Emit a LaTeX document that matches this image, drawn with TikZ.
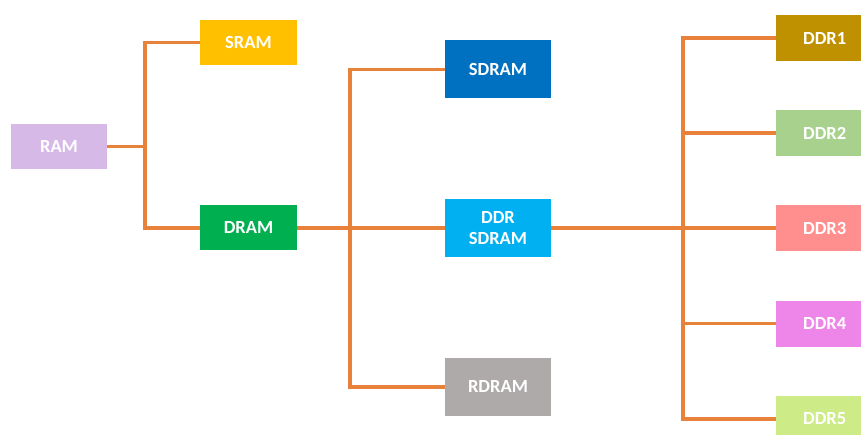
\documentclass[tikz,border=0pt]{standalone}
\usepackage{fontspec}
\setmainfont{Carlito}
\definecolor{linkc}{HTML}{E8823A}
\definecolor{ramc}{HTML}{D7B9E8}
\definecolor{sramc}{HTML}{FFC000}
\definecolor{dramc}{HTML}{00B050}
\definecolor{sdramc}{HTML}{0070C0}
\definecolor{ddrsc}{HTML}{00B0F0}
\definecolor{rdramc}{HTML}{AEAAAA}
\definecolor{ddra}{HTML}{BF9000}
\definecolor{ddrb}{HTML}{A9D18E}
\definecolor{ddrc}{HTML}{FF8F8F}
\definecolor{ddrd}{HTML}{EE85E8}
\definecolor{ddre}{HTML}{CDEB87}
\begin{document}
\begin{tikzpicture}[x=1pt,y=-1pt,
  box/.style={minimum width=97pt, minimum height=45pt, inner sep=0pt, text=white,
    font=\bfseries\fontsize{18.5}{21}\selectfont, align=center, anchor=center},
  wide/.style={box, minimum width=106pt, minimum height=58pt},
  link/.style={draw=linkc, line width=3.8pt, line join=miter, line cap=butt}]
\useasboundingbox (0,0) rectangle (861,435);
\fill[white] (0,0) rectangle (861,435);

% memory boxes
\node[box, minimum width=96pt, fill=ramc] (ram) at (59,146.5) {RAM};
\node[box, fill=sramc] (sram) at (248.5,42.5) {SRAM};
\node[box, fill=dramc] (dram) at (248.5,228) {DRAM};
\node[wide, fill=sdramc] (sdram) at (498,69.5) {SDRAM};
\node[wide, fill=ddrsc] (ddrs) at (498,228) {DDR\\SDRAM};
\node[wide, fill=rdramc] (rdram) at (498,387) {RDRAM};
\node[box, minimum height=46pt, anchor=west, fill=ddra] (d1) at (776,38) {DDR1};
\node[box, minimum height=46pt, anchor=west, fill=ddrb] (d2) at (776,133) {DDR2};
\node[box, minimum height=46pt, anchor=west, fill=ddrc] (d3) at (776,228) {DDR3};
\node[box, minimum height=46pt, anchor=west, fill=ddrd] (d4) at (776,323.5) {DDR4};
\node[box, minimum height=46pt, anchor=west, fill=ddre] (d5) at (776,419) {DDR5};

% bus lines
\coordinate (b1) at (145,146.5);
\coordinate (b2) at (350,228);
\coordinate (b3) at (683,228);

\draw[link] (ram.east) -- (b1);
\draw[link] (sram.west) -| (b1) |- (dram.west);
\draw[link] (dram.east) -- (ddrs.west);
\draw[link] (sdram.west) -| (b2) |- (rdram.west);
\draw[link] (ddrs.east) -- (b3);
\draw[link] (d1.west) -| (b3) |- (d5.west);
\draw[link] (b3 |- d2.west) -- (d2.west);
\draw[link] (b3 |- d4.west) -- (d4.west);
\draw[link] (b3) -- (d3.west);
\end{tikzpicture}
\end{document}
